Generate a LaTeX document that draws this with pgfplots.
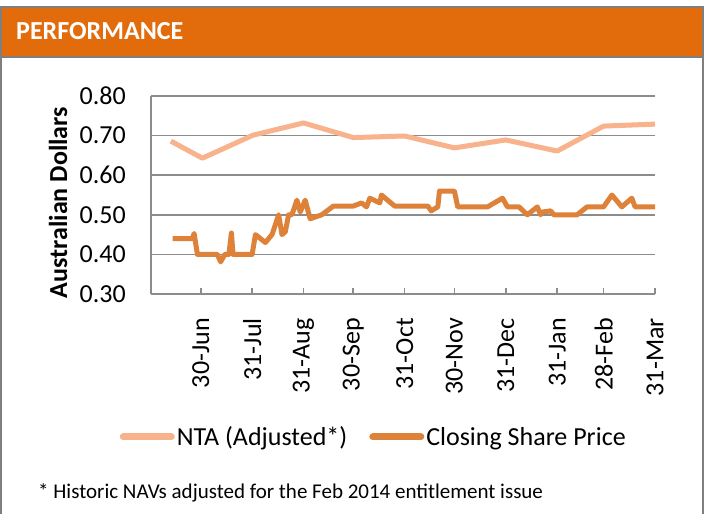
\documentclass[border=0pt]{standalone}
\usepackage{pgfplots}
\pgfplotsset{compat=1.18}
\usepackage{fontspec}
\setmainfont{Carlito}
\definecolor{hdr}{HTML}{E26C0C}
\definecolor{frm}{HTML}{7F7F7F}
\definecolor{grd}{HTML}{8C8C8C}
\definecolor{nta}{HTML}{F8B28C}
\definecolor{csp}{HTML}{DF8239}
\newcommand\f{\fontsize{26}{31}\selectfont}
\begin{document}
\begin{tikzpicture}[x=1pt,y=1pt]
\useasboundingbox (0,0) rectangle (707,514);
\clip (0,0) rectangle (707,514);
\fill[white] (0,0) rectangle (707,514);
\fill[hdr] (1,507) rectangle (703,457);
\draw[frm,line width=2pt] (1,-10) rectangle (703,507);
\draw[frm,line width=2pt] (1,457) -- (703,457);
\node[anchor=base west,inner sep=0pt,text=white,font=\f\bfseries] at (16,474) {PERFORMANCE};
\begin{axis}[
  at={(151pt,220pt)}, anchor=south west,
  scale only axis, width=504pt, height=198pt,
  xmin=0, xmax=304, ymin=0.3, ymax=0.8,
  axis x line*=bottom, axis y line*=left,
  axis line style={-, grd, line width=1.6pt},
  ymajorgrids, grid style={grd, line width=1.6pt},
  ytick={0.3,0.4,0.5,0.6,0.7,0.8},
  xtick={30,61,92,122,153,183,214,245,273,304},
  xticklabels={30-Jun,31-Jul,31-Aug,30-Sep,31-Oct,30-Nov,31-Dec,31-Jan,28-Feb,31-Mar},
  x tick style={grd, line width=1.6pt}, y tick style={draw=none},
  tick align=inside, major tick length=6pt,
  ticklabel style={font=\f, inner sep=0pt},
  xticklabel style={rotate=90, anchor=east},
  xticklabel shift=24pt, yticklabel shift=25pt,
  /pgf/number format/.cd, fixed, fixed zerofill, precision=2, assume math mode=true, /pgfplots/.cd,
  ylabel={Australian Dollars},
  ylabel style={font=\f\bfseries, at={(axis description cs:-0.1845,0.462)}, anchor=center, inner sep=0pt},
  legend columns=2,
  legend style={at={(axis description cs:0.442,-0.722)}, anchor=center, draw=none, fill=none, font=\f,
    /tikz/every even column/.append style={column sep=20pt}},
  legend image code/.code={\draw[#1,line width=7pt,line cap=round] (0pt,0pt) -- (48pt,0pt);},
]
\addplot[nta, line width=5pt, line join=round] coordinates {
(12,0.686)(31,0.643)(61.5,0.701)(92,0.732)(122,0.695)(153,0.699)(183,0.669)(214,0.689)(245,0.661)(273,0.724)(304,0.729)};
\addlegendentry{NTA (Adjusted*)}
\addplot[csp, line width=5pt, line join=round] coordinates {
(13,0.44)(25,0.44)(26,0.453)(28,0.40)(40,0.40)(42,0.381)(44.5,0.40)(47,0.40)(48.5,0.454)(49.5,0.40)(61,0.40)(63,0.45)(69,0.43)(73,0.45)(77,0.50)(79,0.45)(81,0.457)(83,0.50)(85,0.50)(88,0.537)(90,0.507)(93,0.537)(96,0.49)(103,0.50)(110,0.522)(122,0.522)(127,0.53)(130,0.52)(132,0.542)(138,0.53)(139,0.55)(147,0.522)(167,0.522)(169,0.51)(173,0.52)(174,0.56)(183,0.56)(185,0.52)(203,0.52)(212,0.542)(215,0.52)(222,0.52)(227,0.50)(233,0.52)(235,0.50)(236,0.507)(241,0.51)(243,0.50)(257,0.50)(263,0.52)(273,0.52)(278,0.55)(284,0.52)(290,0.542)(292,0.52)(304,0.52)};
\addlegendentry{Closing Share Price}
\end{axis}
\node[anchor=base west,inner sep=0pt,font=\fontsize{21}{25}\selectfont] at (38,15) {* Historic NAVs adjusted for the Feb 2014 entitlement issue};
\end{tikzpicture}
\end{document}
